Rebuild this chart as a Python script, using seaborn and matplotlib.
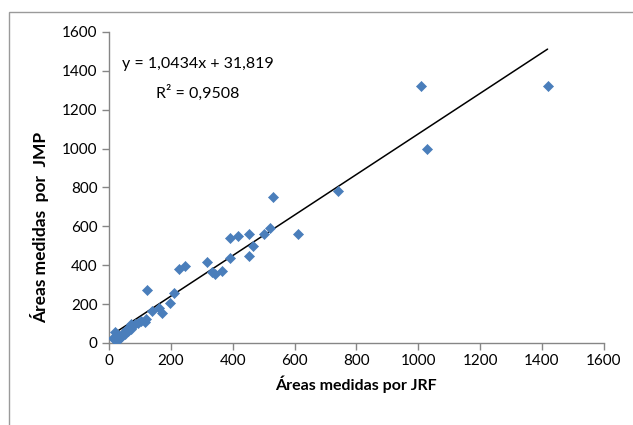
import numpy as np
import matplotlib
matplotlib.use("Agg")
import matplotlib.pyplot as plt
import seaborn as sns
from matplotlib.patches import Rectangle

# areas measured by JRF (x) and JMP (y)
jrf = [1008, 1418, 1028, 530, 742, 611, 522, 502, 453, 418,
       390, 466, 452, 391, 365, 343, 333, 316, 246, 226,
       210, 197, 122, 171, 162, 139, 120, 116, 104, 93,
       70, 73, 57, 52, 38, 19, 14, 19, 29, 45,
       62, 85, 24, 33]
jmp = [1322, 1322, 998, 752, 784, 562, 592, 563, 558, 548,
       538, 501, 448, 439, 372, 357, 364, 417, 396, 381,
       259, 207, 273, 156, 182, 165, 122, 108, 113, 105,
       98, 70, 70, 46, 29, 58, 24, 15, 41, 50,
       60, 100, 35, 20]

slope, intercept = 1.0434, 31.819
r2 = 0.9508
ticks = [0, 200, 400, 600, 800, 1000, 1200, 1400, 1600]

sns.set_style("white")
plt.rcParams['font.family'] = ['Lato', 'DejaVu Sans']
plt.rcParams['text.color'] = 'black'
plt.rcParams['axes.labelcolor'] = 'black'

fig = plt.figure(figsize=(6.33, 4.25), dpi=100)
ax = fig.add_axes([0.172, 0.193, 0.782, 0.732])

# outer chart frame
fig.patches.append(Rectangle((9 / 633, -0.2), 1.2, 1.2 - 12 / 425,
                             transform=fig.transFigure, fill=False,
                             edgecolor='#9a9a9a', linewidth=1.0))

sns.scatterplot(x=jrf, y=jmp, marker='D', s=26, color='#4a7ebb',
                edgecolor='#4a7ebb', linewidth=0.5, ax=ax, zorder=3)

xl = np.array([min(jrf), max(jrf)])
ax.plot(xl, slope * xl + intercept, color='black', linewidth=1.1, zorder=2)

ax.set_xlim(0, 1600)
ax.set_ylim(0, 1600)
ax.set_xticks(ticks)
ax.set_yticks(ticks)
sns.despine(ax=ax)
for s in ['left', 'bottom']:
    ax.spines[s].set_color('#868686')
    ax.spines[s].set_linewidth(1.0)
ax.tick_params(axis='both', direction='out', length=5, width=1,
               color='#868686', labelsize=11, pad=3, labelcolor='black',
               left=True, bottom=True)

ax.set_xlabel('Áreas medidas por JRF', fontsize=11.5, fontweight='bold', labelpad=5)
ax.set_ylabel('Áreas medidas  por  JMP', fontsize=12.5, fontweight='bold')
ax.yaxis.set_label_coords(-0.12, 0.37)

eq = f'y = {slope:.4f}x + {intercept:.3f}'.replace('.', ',')
rr = f'R² = {r2:.4f}'.replace('.', ',')
ax.text(0.026, 0.897, eq, transform=ax.transAxes, fontsize=11.5,
        ha='left', va='center')
ax.text(0.095, 0.804, rr, transform=ax.transAxes, fontsize=11.5,
        ha='left', va='center')

fig.savefig('out.png', dpi=100)
